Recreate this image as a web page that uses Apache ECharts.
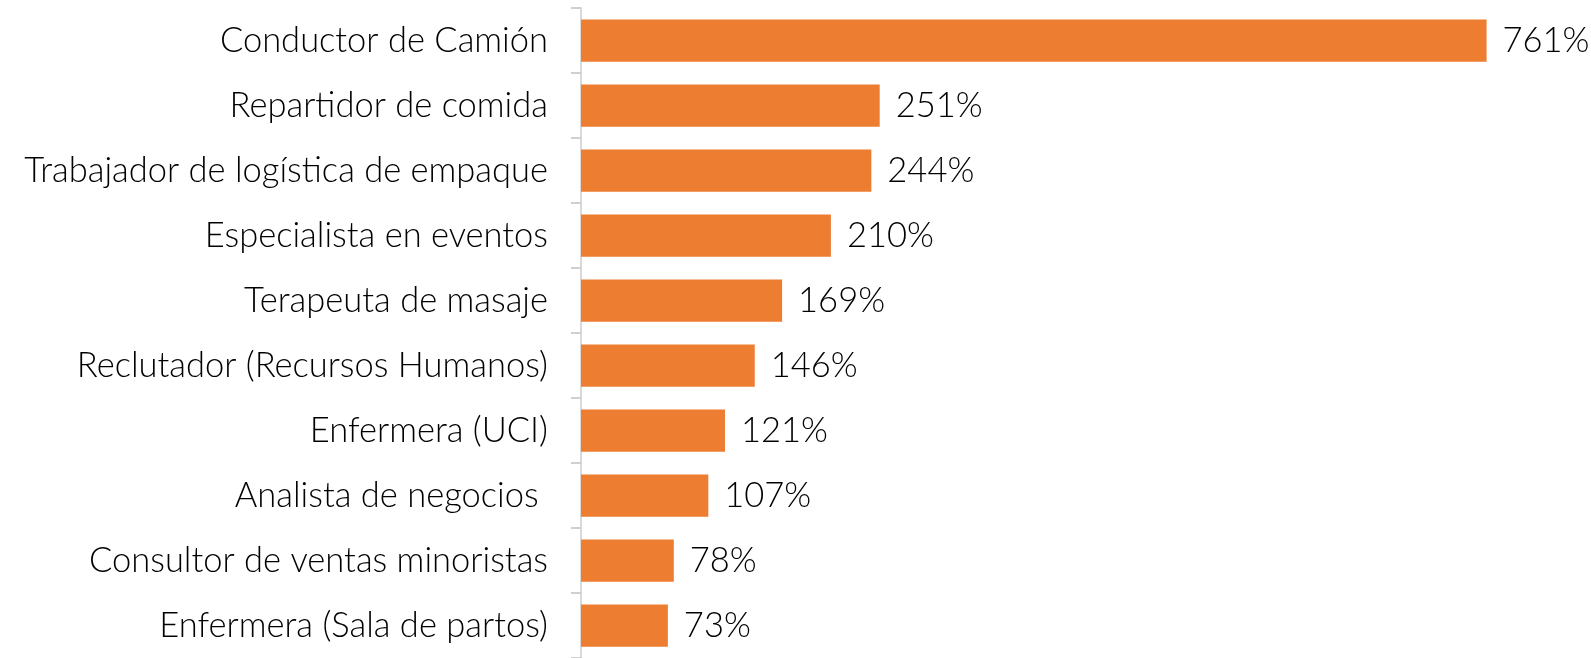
<!DOCTYPE html>
<html>
<head>
<meta charset="utf-8">
<script src="https://cdn.jsdelivr.net/npm/echarts@6/dist/echarts.min.js"></script>
<style>
  html, body { margin: 0; padding: 0; background: #fff; }
  #chart { width: 1591px; height: 658px; }
</style>
</head>
<body>
<div id="chart"></div>
<script>
// categories, top to bottom
const jobs = [
  'Conductor de Camión',
  'Repartidor de comida',
  'Trabajador de logística de empaque',
  'Especialista en eventos',
  'Terapeuta de masaje',
  'Reclutador (Recursos Humanos)',
  'Enfermera (UCI)',
  'Analista de negocios ',
  'Consultor de ventas minoristas',
  'Enfermera (Sala de partos)'
]
// growth, %
const growth = [761, 251, 244, 210, 169, 146, 121, 107, 78, 73]

const font = 'Lato, "Noto Sans", sans-serif'

const chart = echarts.init(document.getElementById('chart'))

chart.setOption({
  backgroundColor: '#fff',
  animation: false,
  grid: {
    left: 581,
    top: 8,
    width: 952,
    bottom: 0
  },
  xAxis: {
    type: 'value',
    min: 0,
    max: 800,
    show: false
  },
  yAxis: {
    type: 'category',
    data: jobs,
    inverse: true,
    axisLine: {
      lineStyle: { color: '#d9d9d9', width: 2 }
    },
    axisTick: {
      show: true,
      alignWithLabel: false,
      length: 10,
      lineStyle: { color: '#d0d0d0', width: 2 }
    },
    axisLabel: {
      color: '#000',
      fontSize: 34.5,
      fontWeight: 300,
      fontFamily: font,
      margin: 33,
      padding: [8, 0, 0, 0]
    }
  },
  series: [
    {
      type: 'bar',
      data: growth,
      barCategoryGap: '35%',
      itemStyle: { color: '#ED7D31' },
      label: {
        show: true,
        position: 'right',
        distance: 16,
        color: '#000',
        fontSize: 34.5,
        fontWeight: 300,
        fontFamily: font,
        padding: [8, 0, 0, 0],
        formatter: function (p) {
          return p.value + '%'
        }
      }
    }
  ]
})
</script>
</body>
</html>
